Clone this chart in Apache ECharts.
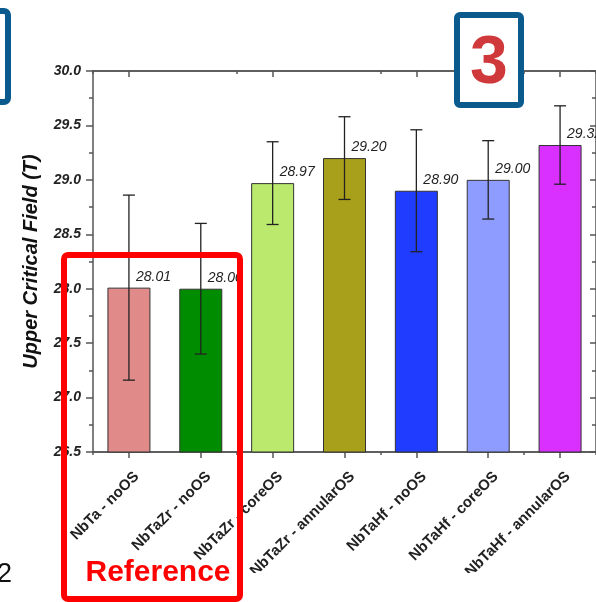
<!DOCTYPE html>
<html>
<head>
<meta charset="utf-8">
<script src="https://cdn.jsdelivr.net/npm/echarts@6/dist/echarts.min.js"></script>
<style>
html,body{margin:0;padding:0;background:#fff;}
#chart{width:596px;height:602px;}
</style>
</head>
<body>
<div id="chart"></div>
<script>
var categories = ['NbTa - noOS','NbTaZr - noOS','NbTaZr - coreOS','NbTaZr - annularOS','NbTaHf - noOS','NbTaHf - coreOS','NbTaHf - annularOS'];
var values = [28.01, 28.00, 28.97, 29.20, 28.90, 29.00, 29.32];
var errors = [0.85, 0.60, 0.38, 0.38, 0.56, 0.36, 0.36];
var barColors = ['#e08a8a','#008c00','#bbe96e','#a8a01a','#1f3cff','#8f9cff','#d930ff'];
var yTicks = [26.5, 27.0, 27.5, 28.0, 28.5, 29.0, 29.5, 30.0];

var FONT = '"Liberation Sans", Arial, sans-serif';
var chart = echarts.init(document.getElementById('chart'));

var barData = values.map(function (v, i) {
  return { value: v, itemStyle: { color: barColors[i] } };
});
var errData = values.map(function (v, i) { return [i, v, errors[i]]; });

var axisLine = { show: true, lineStyle: { color: '#555', width: 1.5 } };

var option = {
  animation: false,
  grid: { left: 93, top: 71, width: 504, height: 381, containLabel: false },
  xAxis: [
    {
      type: 'category', data: categories, position: 'bottom',
      axisLine: axisLine,
      axisTick: { show: true, alignWithLabel: true, length: 6, lineStyle: { color: '#555', width: 1.5 } },
      axisLabel: { rotate: 45, interval: 0, margin: 30, padding: [0, -11, 0, 0], color: '#222', fontFamily: FONT, fontWeight: 'bold', fontSize: 15 },
      splitLine: { show: false }
    },
    {
      type: 'category', data: categories, position: 'bottom',
      axisLine: axisLine,
      axisTick: { show: true, length: 3, lineStyle: { color: '#555', width: 1.5 } },
      axisLabel: { show: false }, splitLine: { show: false }
    },
    {
      type: 'category', data: categories, position: 'top',
      axisLine: axisLine,
      axisTick: { show: true, inside: true, alignWithLabel: true, length: 6, lineStyle: { color: '#555', width: 1.5 } },
      axisLabel: { show: false }, splitLine: { show: false }
    },
    {
      type: 'category', data: categories, position: 'top',
      axisLine: axisLine,
      axisTick: { show: true, inside: true, length: 3, lineStyle: { color: '#555', width: 1.5 } },
      axisLabel: { show: false }, splitLine: { show: false }
    }
  ],
  yAxis: [
    {
      type: 'value', min: yTicks[0], max: yTicks[yTicks.length - 1], interval: 0.5, position: 'left',
      name: 'Upper Critical Field (T)', nameLocation: 'middle', nameGap: 52,
      nameTextStyle: { fontFamily: FONT, fontWeight: 'bold', fontStyle: 'italic', fontSize: 20, color: '#111' },
      axisLine: axisLine,
      axisTick: { show: true, length: 7, lineStyle: { color: '#555', width: 1.5 } },
      minorTick: { show: true, splitNumber: 2, length: 4, lineStyle: { color: '#555', width: 1.5 } },
      axisLabel: { margin: 12, color: '#222', fontFamily: FONT, fontWeight: 'bold', fontStyle: 'italic', fontSize: 14,
        formatter: function (v) { return v.toFixed(1); } },
      splitLine: { show: false }
    },
    {
      type: 'value', min: yTicks[0], max: yTicks[yTicks.length - 1], interval: 0.5, position: 'right',
      axisLine: axisLine,
      axisTick: { show: true, inside: true, length: 6, lineStyle: { color: '#555', width: 1.5 } },
      minorTick: { show: true, splitNumber: 2, length: 4, lineStyle: { color: '#555', width: 1.5 } },
      axisLabel: { show: false }, splitLine: { show: false }
    }
  ],
  series: [
    {
      type: 'bar', xAxisIndex: 0, yAxisIndex: 0, data: barData, barWidth: 43,
      itemStyle: { borderColor: '#333', borderWidth: 1 },
      label: {
        show: true, position: 'top', align: 'left', distance: 4, offset: [7, 0],
        fontFamily: FONT, fontStyle: 'italic', fontSize: 14, color: '#222',
        formatter: function (p) { return p.value.toFixed(2); }
      }
    },
    {
      type: 'custom', xAxisIndex: 0, yAxisIndex: 0, data: errData, z: 5,
      renderItem: function (params, api) {
        var i = api.value(0), v = api.value(1), e = api.value(2);
        var top = api.coord([i, v + e]);
        var bot = api.coord([i, v - e]);
        var hw = 6;
        var style = { stroke: '#222', lineWidth: 1.3 };
        return {
          type: 'group',
          children: [
            { type: 'line', shape: { x1: top[0], y1: top[1], x2: bot[0], y2: bot[1] }, style: style },
            { type: 'line', shape: { x1: top[0] - hw, y1: top[1], x2: top[0] + hw, y2: top[1] }, style: style },
            { type: 'line', shape: { x1: bot[0] - hw, y1: bot[1], x2: bot[0] + hw, y2: bot[1] }, style: style }
          ]
        };
      }
    }
  ],
  graphic: [
    { type: 'rect', z: 99, shape: { x: 246, y: 573, width: 360, height: 40 },
      style: { fill: '#fff', stroke: 'none' } },
    { type: 'rect', z: 100, shape: { x: -30, y: 11, width: 38, height: 91, r: 4 },
      style: { fill: 'none', stroke: '#0b5a8e', lineWidth: 6 } },
    { type: 'rect', z: 100, shape: { x: 457, y: 15, width: 64, height: 90, r: 3 },
      style: { fill: '#fff', stroke: '#0b5a8e', lineWidth: 6 } },
    { type: 'text', z: 101, x: 489, y: 64,
      style: { text: '3', fill: '#d0393b', font: 'bold 68px ' + FONT, textAlign: 'center', textVerticalAlign: 'middle' } },
    { type: 'rect', z: 100, shape: { x: 64, y: 255, width: 176, height: 344, r: 4 },
      style: { fill: 'none', stroke: '#ff0000', lineWidth: 6 } },
    { type: 'text', z: 101, x: 158, y: 573,
      style: { text: 'Reference', fill: '#ff0000', font: 'bold 30px ' + FONT, textAlign: 'center', textVerticalAlign: 'middle' } },
    { type: 'text', z: 101, x: 12, y: 575,
      style: { text: '2', fill: '#111', font: '27px ' + FONT, textAlign: 'right', textVerticalAlign: 'middle' } }
  ]
};
chart.setOption(option);
</script>
</body>
</html>
